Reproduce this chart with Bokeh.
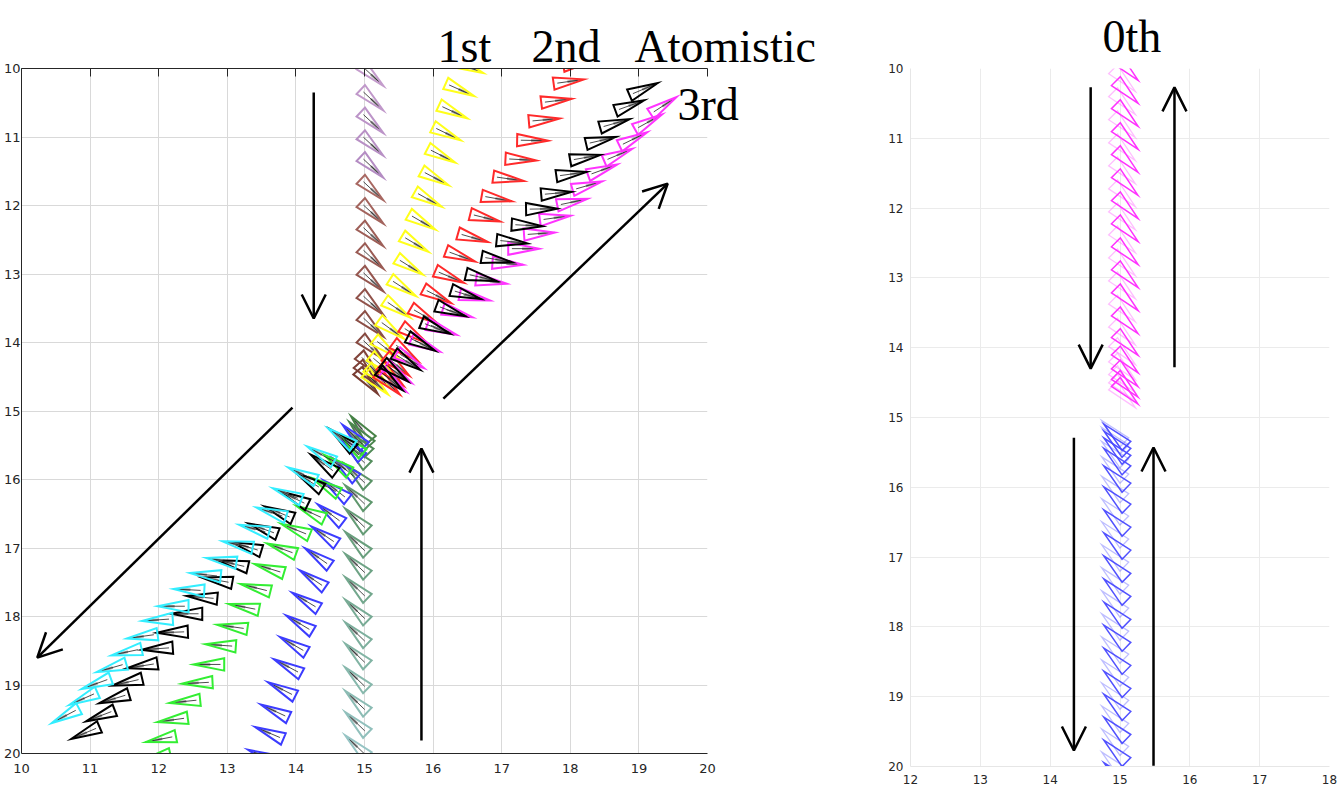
import numpy as np
from bokeh.plotting import figure
from bokeh.models import Range1d, Arrow, OpenHead, Label, LinearAxis, FixedTicker, ColumnDataSource
from bokeh.layouts import row, column
from bokeh.embed import file_html
from bokeh.resources import INLINE

# ---------------- data (left panel) ----------------
# upper vertical column (purple -> brown)
col_up_x = [15.11, 15.11, 15.11, 15.11, 15.11, 15.11, 15.11, 15.11, 15.11, 15.11, 15.11, 15.11, 15.11, 15.08, 15.06, 15.05]
col_up_y = [10.10, 10.46, 10.79, 11.12, 11.44, 11.77, 12.11, 12.44, 12.77, 13.10, 13.44, 13.76, 14.09, 14.34, 14.48, 14.58]
col_up_a = [43, 43, 43, 43, 43, 43, 43, 43, 43, 43, 43, 43, 43, 46, 48, 50]

# 1st order (yellow)
first_x = [16.52, 16.39, 16.29, 16.20, 16.12, 16.03, 15.93, 15.84, 15.74, 15.66, 15.56, 15.48, 15.39, 15.32, 15.26, 15.21, 15.18]
first_y = [9.98, 10.31, 10.63, 10.95, 11.27, 11.60, 11.91, 12.24, 12.56, 12.89, 13.20, 13.51, 13.81, 14.09, 14.34, 14.51, 14.60]
first_a = [22, 24, 25, 26, 27, 28, 29, 30, 31, 32, 33, 34, 36, 38, 40, 42, 44]

# 2nd order (red)
second_x = [18.12, 17.98, 17.80, 17.62, 17.45, 17.28, 17.10, 16.93, 16.76, 16.58, 16.40, 16.24, 16.06, 15.87, 15.73, 15.60, 15.48, 15.40, 15.35]
second_y = [9.92, 10.19, 10.47, 10.75, 11.05, 11.33, 11.61, 11.90, 12.18, 12.47, 12.74, 13.04, 13.32, 13.61, 13.89, 14.14, 14.34, 14.48, 14.60]
second_a = [-10, -8, -7, -5, 1, 3, 8, 10, 14, 16, 20, 23, 27, 30, 33, 36, 40, 42, 44]

# atomistic (black, upper)
atom_up_x = [19.07, 18.87, 18.65, 18.45, 18.22, 18.02, 17.80, 17.58, 17.37, 17.15, 16.93, 16.70, 16.48, 16.26, 16.04, 15.83, 15.62, 15.45, 15.38]
atom_up_y = [10.30, 10.54, 10.80, 11.05, 11.30, 11.54, 11.82, 12.05, 12.29, 12.53, 12.79, 13.05, 13.30, 13.54, 13.79, 14.02, 14.28, 14.43, 14.55]
atom_up_a = [-23, -20, -16, -13, -10, -8, -5, -1, 3, 6, 10, 13, 17, 20, 22, 27, 32, 37, 40]

# 3rd order (magenta)
third_x = [19.36, 19.14, 18.92, 18.70, 18.47, 18.25, 18.03, 17.78, 17.55, 17.32, 17.09, 16.85, 16.61, 16.36, 16.13, 15.89, 15.67, 15.50, 15.43]
third_y = [10.54, 10.78, 11.03, 11.26, 11.48, 11.71, 11.95, 12.18, 12.41, 12.63, 12.85, 13.11, 13.34, 13.57, 13.81, 14.04, 14.26, 14.46, 14.58]
third_a = [-33, -29, -26, -23, -20, -16, -12, -8, -4, 0, 4, 8, 12, 16, 20, 24, 30, 35, 38]

# lower vertical column (dark green -> teal)
col_lo_x = [14.95, 14.93, 14.91, 14.88, 14.88, 14.88, 14.88, 14.88, 14.88, 14.88, 14.88, 14.88, 14.88, 14.88, 14.88, 14.88, 14.88]
col_lo_y = [15.25, 15.33, 15.45, 15.64, 15.93, 16.24, 16.58, 16.92, 17.24, 17.58, 17.91, 18.24, 18.55, 18.90, 19.24, 19.55, 19.89]
col_lo_a = [-130, -132, -134, -136, -136, -136, -136, -136, -136, -136, -136, -136, -136, -136, -136, -136, -136]

# lower blue
blue_x = [14.84, 14.80, 14.71, 14.58, 14.50, 14.41, 14.315, 14.24, 14.14, 14.05, 13.96, 13.88, 13.79, 13.69, 13.61, 13.51]
blue_y = [15.36, 15.53, 15.84, 16.15, 16.50, 16.81, 17.13, 17.45, 17.77, 18.10, 18.41, 18.73, 19.06, 19.38, 19.70, 20.03]
blue_a = [-135, -137, -139, -142, -143, -146, -145, -146, -149, -149, -150, -152, -153, -155, -157, -158]

# lower green
green_x = [14.80, 14.60, 14.43, 14.21, 13.99, 13.79, 13.61, 13.41, 13.24, 13.07, 12.90, 12.73, 12.56, 12.38, 12.20, 12.03, 11.95]
green_y = [15.48, 15.77, 16.09, 16.48, 16.73, 17.01, 17.30, 17.58, 17.86, 18.15, 18.42, 18.70, 18.97, 19.24, 19.51, 19.79, 20.06]
green_a = [-140, -145, -150, -155, -158, -160, -163, -166, -169, -172, -176, 180, 177, 174, 172, 169, 167]

# atomistic (black, lower)
atom_lo_x = [14.67, 14.40, 14.19, 13.97, 13.75, 13.52, 13.28, 13.08, 12.85, 12.63, 12.41, 12.20, 11.98, 11.76, 11.54, 11.35, 11.15, 10.93]
atom_lo_y = [15.41, 15.77, 16.02, 16.27, 16.48, 16.72, 16.98, 17.23, 17.47, 17.72, 17.96, 18.23, 18.47, 18.72, 18.96, 19.20, 19.45, 19.70]
atom_lo_a = [-140, -144, -148, -154, -157, -160, -163, -167, -170, -175, 180, 178, 176, 171, 167, 163, 159, 157]

# lower cyan
cyan_x = [14.65, 14.36, 14.09, 13.87, 13.64, 13.39, 13.15, 12.91, 12.68, 12.44, 12.21, 11.98, 11.76, 11.53, 11.31, 11.09, 10.90, 10.64]
cyan_y = [15.38, 15.63, 15.92, 16.21, 16.48, 16.72, 16.95, 17.18, 17.39, 17.61, 17.85, 18.05, 18.29, 18.52, 18.75, 18.98, 19.20, 19.45]
cyan_a = [-145, -150, -155, -158, -162, -165, -168, -171, -174, -177, 180, 176, 172, 168, 164, 160, 156, 152]

# arrows (left panel)
arr1_x0 = [14.26, 16.15, 13.95, 15.83]
arr1_y0 = [10.35, 14.82, 14.95, 19.81]
arr1_x1 = [14.26, 19.42, 10.23, 15.83]
arr1_y1 = [13.65, 11.68, 18.60, 15.55]

# ---------------- data (right panel, 0th) ----------------
mag_dark_y = [10.01, 10.34, 10.67, 11.00, 11.33, 11.66, 11.99, 12.32, 12.65, 12.98, 13.31, 13.64, 13.95, 14.20, 14.40, 14.55, 14.65]
mag_light_y = [10.17, 10.50, 10.83, 11.16, 11.49, 11.82, 12.15, 12.48, 12.81, 13.14, 13.47, 13.80, 14.08, 14.30, 14.48, 14.60, 14.70]
blue_dark_y = [15.25, 15.35, 15.45, 15.60, 15.85, 16.15, 16.48, 16.81, 17.14, 17.47, 17.80, 18.13, 18.46, 18.79, 19.12, 19.45, 19.78, 20.10]
blue_light_y = [15.20, 15.30, 15.50, 15.72, 16.00, 16.32, 16.65, 16.98, 17.31, 17.64, 17.97, 18.30, 18.63, 18.96, 19.29, 19.62, 19.95]
mag_dark_x, mag_light_x = 15.10, 15.06
blue_dark_x, blue_light_x = 14.93, 14.90
mag_angle, blue_angle = 45, -136

arr2_x0 = [14.58, 15.78, 14.34, 15.48]
arr2_y0 = [10.27, 14.28, 15.29, 19.99]
arr2_x1 = [14.58, 15.78, 14.34, 15.48]
arr2_y1 = [14.30, 10.27, 19.77, 15.43]

# ---------------- geometry helpers ----------------
TL = 0.45   # triangle length (data units)
TW = 0.18   # triangle base width


def tri_source(xs, ys, angs, colors):
    px, py, lx, ly, gx, gy = [], [], [], [], [], []
    for x, y, a in zip(xs, ys, angs):
        r = np.deg2rad(a)
        c, s = np.cos(r), np.sin(r)
        tx, ty = x + TL / 2 * c, y + TL / 2 * s
        bx, by = x - TL / 2 * c, y - TL / 2 * s
        nx, ny = -s * TW / 2, c * TW / 2
        px.append([tx, bx + nx, bx - nx])
        py.append([ty, by + ny, by - ny])
        lx.append([bx + 0.12 * TL * c, tx - 0.05 * TL * c])
        ly.append([by + 0.12 * TL * s, ty - 0.05 * TL * s])
        gx.append([bx + 0.45 * TL * c, bx + 0.8 * TL * c])
        gy.append([by + 0.45 * TL * s, by + 0.8 * TL * s])
    return (ColumnDataSource(dict(xs=px, ys=py, color=colors)),
            ColumnDataSource(dict(xs=lx, ys=ly)),
            ColumnDataSource(dict(xs=gx, ys=gy)))


def ramp(c0, c1, n):
    out = []
    for i in range(n):
        t = i / max(n - 1, 1)
        rgb = [int(round(a + (b - a) * t)) for a, b in zip(c0, c1)]
        out.append("#%02x%02x%02x" % tuple(rgb))
    return out


def draw_tris(p, xs, ys, angs, colors, lw=2.0, alpha=1.0, inner=True):
    tsrc, lsrc, gsrc = tri_source(xs, ys, angs, colors)
    if inner:
        p.multi_line("xs", "ys", source=gsrc, line_color="#8a8a8a", line_width=2.5, line_alpha=0.85)
        p.multi_line("xs", "ys", source=lsrc, line_color="#202020", line_width=0.8)
    p.patches("xs", "ys", source=tsrc, fill_color=None, line_color="color", line_width=lw,
              line_alpha=alpha, line_join="miter")


def style_axis(ax, font_size="13px"):
    ax.major_label_text_font = "DejaVu Sans"
    ax.major_label_text_font_size = font_size
    ax.major_label_text_color = "#262626"
    ax.minor_tick_line_color = None
    ax.major_tick_in = 0
    ax.major_tick_out = 0
    ax.major_tick_line_color = None


label_font = "Liberation Serif"

# ---------------- header strip with the series labels ----------------
# 75 px tall; the (transparent-bordered) row below overlaps its bottom 20 px
p0 = figure(width=1339, height=75, x_range=Range1d(0, 1339), y_range=Range1d(75, 0),
            x_axis_type=None, y_axis_type=None, output_backend="svg", toolbar_location=None,
            min_border=0, margin=(0, 0, -20, 0))
p0.title.visible = False
p0.grid.visible = False
p0.outline_line_color = None
p0.border_fill_color = None
p0.background_fill_color = None
for txt, lx_, ly_ in [("1st", 437, 46), ("2nd", 531, 46), ("Atomistic", 634, 46), ("0th", 1102, 36)]:
    p0.add_layout(Label(x=lx_, y=ly_, text=txt, text_font=label_font, text_font_size="46px",
                        text_color="black", text_baseline="middle", text_align="left"))

# ---------------- left figure ----------------
p1 = figure(frame_width=686, frame_height=685, min_border_left=21, min_border_top=13,
            min_border_bottom=54, min_border_right=163, output_backend="svg",
            toolbar_location=None, x_range=Range1d(10, 20), y_range=Range1d(20, 10))
p1.title.visible = False
p1.outline_line_color = None
p1.border_fill_color = None
ticks1 = list(range(10, 21))
p1.xaxis.ticker = FixedTicker(ticks=ticks1)
p1.yaxis.ticker = FixedTicker(ticks=ticks1)
for ax in (p1.xaxis[0], p1.yaxis[0]):
    style_axis(ax)
    ax.axis_line_color = "#262626"
p1.yaxis[0].major_label_standoff = 1
p1.xaxis[0].major_label_standoff = 10
p1.grid.grid_line_color = "#d9d9d9"
p1.xgrid.ticker = FixedTicker(ticks=ticks1)
p1.ygrid.ticker = FixedTicker(ticks=ticks1)

top_ax = LinearAxis(ticker=FixedTicker(ticks=[], minor_ticks=ticks1), major_label_standoff=0,
                    major_tick_in=0, major_tick_out=0, minor_tick_in=8, minor_tick_out=0,
                    axis_line_color="#262626", minor_tick_line_color="#262626",
                    major_tick_line_color=None)
p1.add_layout(top_ax, "above")

# "3rd" label sits at the right edge of the frame, as a tick label of a right-hand axis
third_label_y = [10.52]
right_ax = LinearAxis(ticker=FixedTicker(ticks=third_label_y),
                      major_label_overrides={third_label_y[0]: "3rd"},
                      major_label_text_font=label_font, major_label_text_font_size="46px",
                      major_label_text_color="black", major_label_standoff=-30,
                      major_tick_in=0, major_tick_out=0, major_tick_line_color=None,
                      minor_tick_line_color=None, axis_line_color=None)
p1.add_layout(right_ax, "right")

purple_cols = ramp((196, 156, 204), (180, 140, 195), 5) + ramp((168, 104, 98), (120, 60, 50), len(col_up_x) - 5)
draw_tris(p1, col_up_x, col_up_y, col_up_a, purple_cols)
draw_tris(p1, first_x, first_y, first_a, ["#ffff1a"] * len(first_x))
draw_tris(p1, second_x, second_y, second_a, ["#ff2a2a"] * len(second_x))
draw_tris(p1, third_x, third_y, third_a, ["#ff33ff"] * len(third_x))
draw_tris(p1, atom_up_x, atom_up_y, atom_up_a, ["#000000"] * len(atom_up_x))

green_cols = ramp((70, 130, 70), (150, 196, 196), len(col_lo_x))
draw_tris(p1, col_lo_x, col_lo_y, col_lo_a, green_cols)
draw_tris(p1, blue_x, blue_y, blue_a, ["#3c3cff"] * len(blue_x))
draw_tris(p1, green_x, green_y, green_a, ["#33ee33"] * len(green_x))
draw_tris(p1, atom_lo_x, atom_lo_y, atom_lo_a, ["#000000"] * len(atom_lo_x))
draw_tris(p1, cyan_x, cyan_y, cyan_a, ["#33eeff"] * len(cyan_x))

asrc1 = ColumnDataSource(dict(x0=arr1_x0, y0=arr1_y0, x1=arr1_x1, y1=arr1_y1))
p1.add_layout(Arrow(end=OpenHead(size=24, line_width=2.5, line_color="black"),
                    x_start="x0", y_start="y0", x_end="x1", y_end="y1", source=asrc1,
                    line_width=2.5, line_color="black"))

# ---------------- right figure ----------------
p2 = figure(frame_width=419, frame_height=698, min_border_left=40, min_border_top=8,
            min_border_bottom=46, min_border_right=10, output_backend="svg",
            toolbar_location=None, x_range=Range1d(12, 18), y_range=Range1d(20, 10))
p2.title.visible = False
p2.outline_line_color = None
p2.border_fill_color = None
ticks2x = list(range(12, 19))
p2.xaxis.ticker = FixedTicker(ticks=ticks2x)
p2.yaxis.ticker = FixedTicker(ticks=ticks1)
for ax in (p2.xaxis[0], p2.yaxis[0]):
    style_axis(ax, "12px")
    ax.axis_line_color = "#e6e6e6"
p2.yaxis[0].major_label_standoff = 7
p2.xaxis[0].major_label_standoff = 8
p2.xgrid.ticker = FixedTicker(ticks=ticks2x)
p2.ygrid.ticker = FixedTicker(ticks=ticks1)
p2.grid.grid_line_color = "#ebebeb"

n = len(mag_light_y)
draw_tris(p2, [mag_light_x] * n, mag_light_y, [mag_angle] * n, ["#ff44ff"] * n, lw=1.3, alpha=0.35, inner=False)
n = len(mag_dark_y)
draw_tris(p2, [mag_dark_x] * n, mag_dark_y, [mag_angle] * n, ["#ff33ff"] * n, lw=1.5, alpha=1.0, inner=False)
n = len(blue_light_y)
draw_tris(p2, [blue_light_x] * n, blue_light_y, [blue_angle] * n, ["#4444ff"] * n, lw=1.3, alpha=0.35, inner=False)
n = len(blue_dark_y)
draw_tris(p2, [blue_dark_x] * n, blue_dark_y, [blue_angle] * n, ["#4848ff"] * n, lw=1.5, alpha=0.95, inner=False)

asrc2 = ColumnDataSource(dict(x0=arr2_x0, y0=arr2_y0, x1=arr2_x1, y1=arr2_y1))
p2.add_layout(Arrow(end=OpenHead(size=24, line_width=2.5, line_color="black"),
                    x_start="x0", y_start="y0", x_end="x1", y_end="y1", source=asrc2,
                    line_width=2.5, line_color="black"))

layout = column(p0, row(p1, p2, spacing=0), spacing=0)
open("out.html", "w").write(file_html(layout, INLINE))
